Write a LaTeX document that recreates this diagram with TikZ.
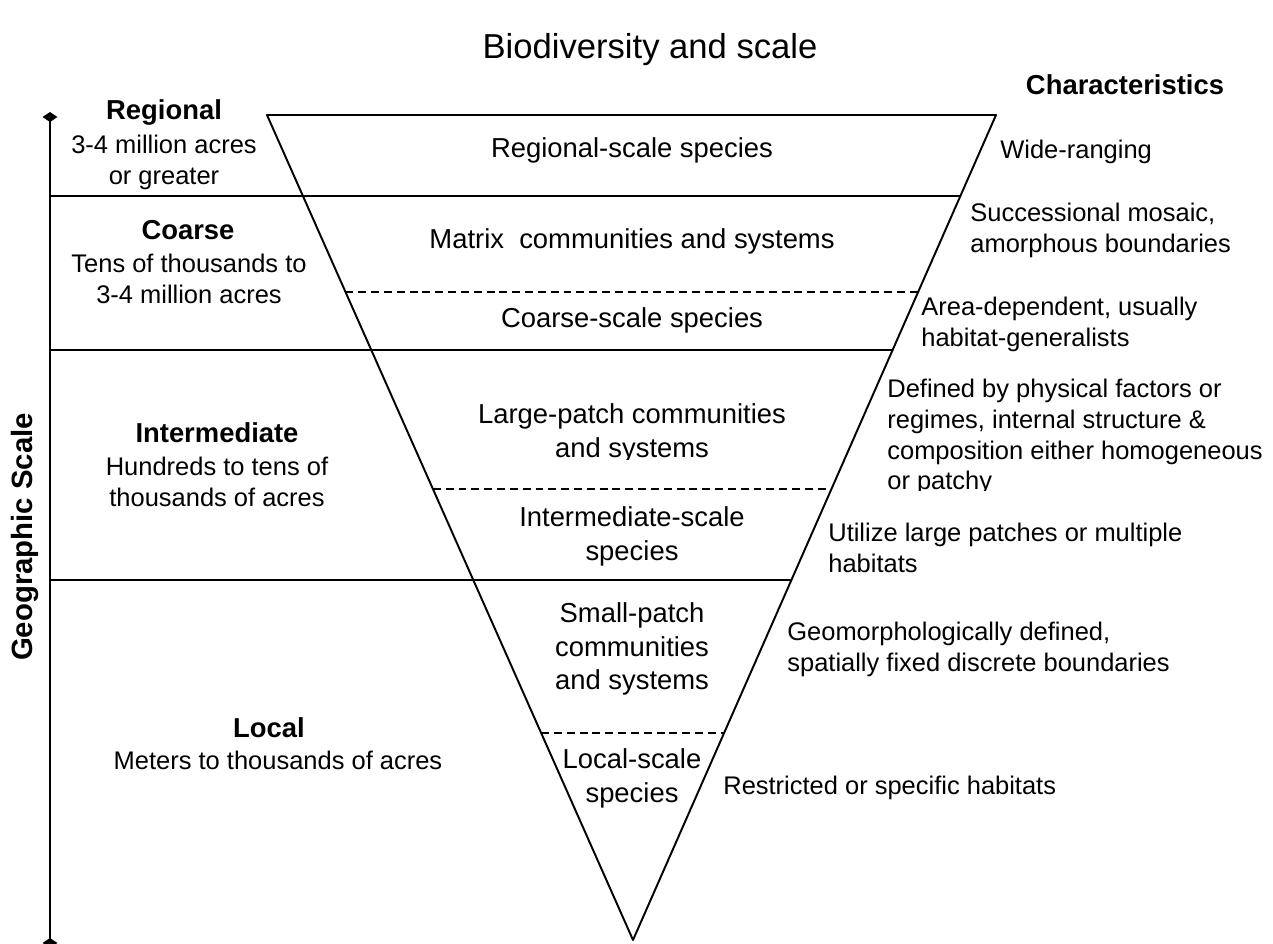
\documentclass[tikz,border=0pt]{standalone}
\usepackage{fontspec}
\setmainfont{Liberation Sans}
\usetikzlibrary{calc,arrows.meta}

\begin{document}
\begin{tikzpicture}[line cap=round, line join=round, x=0.02cm, y=-0.02cm,
    font=\fontsize{15.6}{19}\selectfont,
    every node/.style={inner sep=0pt},
    txt/.style={align=center},
    head/.style={font=\fontsize{15.6}{19}\selectfont\bfseries},
    small/.style={align=center, font=\fontsize{14.5}{17.6}\selectfont},
    note/.style={align=left, anchor=west, font=\fontsize{14.5}{17.6}\selectfont},
    level/.style={line width=1.1pt},
    split/.style={line width=1.1pt, line cap=butt, dash pattern=on 4.5pt off 2.8pt}]

    \useasboundingbox (0,0) rectangle (1273,943);

    % Corners of the funnel (pixel units, y pointing down)
    \coordinate (TL) at (267,115);
    \coordinate (TR) at (996,115);
    \coordinate (Ap) at (633,940);

    % Geographic scale axis
    \coordinate (axtop) at (50,112);
    \coordinate (axbot) at (50,948);
    \draw[level, {Diamond[length=5.7pt, width=8.5pt]}-{Diamond[length=5.7pt, width=8.5pt]}] (axtop) -- (axbot);
    \node[rotate=90, font=\fontsize{16.7}{19}\selectfont\bfseries] (geo) at (25,537) {Geographic Scale};

    % The funnel
    \draw[level] (TL) -- (TR) -- (Ap) -- cycle;

    % Scale boundaries, from the axis to the right side of the funnel
    \foreach \y/\n in {196/a,350/b,580/c} {
        \coordinate (ax\n) at (50,\y);
        \coordinate (rt\n) at ($(TR)!{(\y-115)/825}!(Ap)$);
        \draw[level] (ax\n) -- (rt\n);
    }

    % Dashed splits inside the funnel
    \foreach \y/\n in {292/a,489/b,733/c} {
        \coordinate (dl\n) at ($(TL)!{(\y-115)/825}!(Ap)$);
        \coordinate (dr\n) at ($(TR)!{(\y-115)/825}!(Ap)$);
        \draw[split] (dl\n) -- (dr\n);
    }

    % Titles
    \node[font=\fontsize{19.7}{23}\selectfont] (title) at (650,50) {Biodiversity and scale};
    \node[head] (chars) at (1125,85) {Characteristics};

    % Scales on the left
    \node[head] (regional) at (164,112) {Regional};
    \node[small] (regionalx) at (164,162) {3-4 million acres\\or greater};
    \node[head] (coarse) at (188,230) {Coarse};
    \node[small] (coarsex) at (189,279) {Tens of thousands to\\3-4 million acres};
    \node[head] (inter) at (217,433) {Intermediate};
    \node[small] (interx) at (217,482) {Hundreds to tens of\\thousands of acres};
    \node[head] (local) at (269,728) {Local};
    \node[small] (localx) at (278,760) {Meters to thousands of acres};

    % Inside the funnel
    \node[txt] (regsp) at (632,150) {Regional-scale species};
    \node[txt] (matrix) at (632,241) {Matrix\ \ communities and systems};
    \node[txt] (coarsesp) at (632,320) {Coarse-scale species};
    \begin{scope}
        \clip (400,380) rectangle (900,459);
        \node[txt] (lpatch) at (632,433.5) {Large-patch communities\\and systems};
    \end{scope}
    \node[txt] (intersp) at (632,536.5) {Intermediate-scale\\species};
    \node[txt] (spatch) at (632,649) {Small-patch\\communities\\and systems};
    \node[txt] (localsp) at (632,778.5) {Local-scale\\species};

    % Characteristics on the right
    \node[note] (c1) at (1000,152) {Wide-ranging};
    \node[note] (c2) at (970,230) {Successional mosaic,\\amorphous boundaries};
    \node[note] (c3) at (921,324) {Area-dependent, usually\\habitat-generalists};
    \begin{scope}
        \clip (880,360) rectangle (1273,490);
        \node[note] (c4) at (887,437) {Defined by physical factors or\\regimes, internal structure \&\\composition either homogeneous\\or patchy};
    \end{scope}
    \node[note] (c5) at (828,548) {Utilize large patches or multiple\\habitats};
    \node[note] (c6) at (787,649) {Geomorphologically defined,\\spatially fixed discrete boundaries};
    \node[note] (c7) at (723,788) {Restricted or specific habitats};

\end{tikzpicture}
\end{document}
